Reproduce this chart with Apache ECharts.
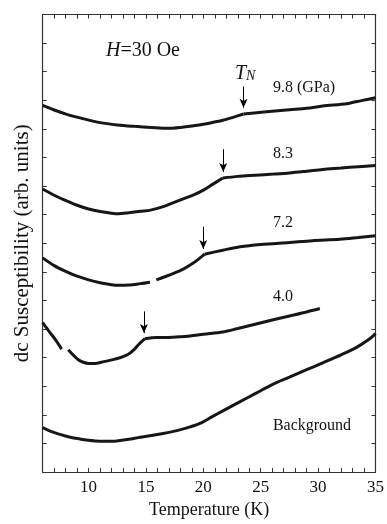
<!DOCTYPE html>
<html>
<head>
<meta charset="utf-8">
<script src="https://cdn.jsdelivr.net/npm/echarts@6/dist/echarts.min.js"></script>
<style>html,body{margin:0;padding:0;background:#fff}#c{width:387px;height:524px}</style>
</head>
<body>
<div id="c"></div>
<script>
// ---- data ----
var xTicks = [10, 15, 20, 25, 30, 35];
// 9.8 GPa
var p98a_T = [6, 7, 8.1, 9.5, 11, 12.5, 14, 15.5, 16.8, 18, 19, 20.5, 21.7, 22.7, 23.5];
var p98a_V = [12.82, 12.66, 12.51, 12.36, 12.22, 12.14, 12.09, 12.05, 12.02, 12.05, 12.10, 12.20, 12.30, 12.42, 12.52];
var p98b_T = [23.5, 25.5, 27.5, 29, 30.4, 32.5, 33.4, 34.3, 35];
var p98b_V = [12.52, 12.60, 12.67, 12.72, 12.80, 12.88, 12.96, 13.03, 13.09];
// 8.3 GPa
var p83a_T = [6, 7, 8, 9, 10, 11, 12, 12.6, 13.5, 14.5, 15.4, 16.5, 17.4, 18.3, 19.2, 20, 20.8, 21.7];
var p83a_V = [9.90, 9.68, 9.50, 9.33, 9.20, 9.11, 9.05, 9.03, 9.07, 9.12, 9.16, 9.28, 9.42, 9.56, 9.70, 9.86, 10.06, 10.28];
var p83b_T = [21.7, 23, 24.5, 26.1, 27.5, 29, 30.4, 32, 33.5, 35];
var p83b_V = [10.28, 10.34, 10.38, 10.42, 10.46, 10.52, 10.58, 10.63, 10.68, 10.72];
// 7.2 GPa
var p72a_T = [6, 7, 8, 9, 10, 11, 12, 12.6, 13.5, 14.5, 15.35];
var p72a_V = [7.49, 7.22, 7.02, 6.85, 6.72, 6.62, 6.55, 6.53, 6.54, 6.59, 6.64];
var p72b_T = [15.9, 16.7, 17.4, 18.25, 18.85, 19.5, 20.1];
var p72b_V = [6.72, 6.84, 6.95, 7.10, 7.24, 7.42, 7.62];
var p72c_T = [20.1, 21.7, 23.2, 25, 27.5, 29.5, 31.9, 33.5, 35];
var p72c_V = [7.62, 7.76, 7.88, 7.96, 8.03, 8.09, 8.14, 8.20, 8.26];
// 4.0 GPa
var p40a_T = [6, 6.3, 6.64, 7.2, 7.65];
var p40a_V = [5.23, 5.06, 4.88, 4.58, 4.30];
var p40b_T = [8.23, 8.67, 9.1, 9.54, 10, 10.56, 11.1, 11.57, 12.2, 12.73, 13.2, 13.6, 14, 14.4, 14.91];
var p40b_V = [4.28, 4.09, 3.93, 3.84, 3.80, 3.80, 3.84, 3.88, 3.94, 4.00, 4.07, 4.16, 4.30, 4.48, 4.67];
var p40c_T = [14.91, 15.93, 16.94, 18, 18.85, 20, 21.7, 23, 24.6, 26, 27.5, 29, 30.15];
var p40c_V = [4.67, 4.71, 4.71, 4.73, 4.76, 4.82, 4.90, 5.02, 5.18, 5.32, 5.46, 5.60, 5.72];
// Background
var bg_T = [6, 6.6, 7.5, 8.5, 9.25, 10, 11, 12, 12.45, 13.5, 14.5, 15.35, 16.5, 17.7, 18.85, 19.7, 20.7, 21.7, 23, 24.6, 26, 27.5, 29, 30.4, 32, 33.35, 34.5, 35];
var bg_V = [1.56, 1.44, 1.32, 1.21, 1.16, 1.11, 1.08, 1.08, 1.09, 1.15, 1.22, 1.27, 1.35, 1.45, 1.58, 1.70, 1.92, 2.14, 2.42, 2.76, 3.06, 3.32, 3.58, 3.82, 4.10, 4.36, 4.66, 4.84];
// T_N arrows: position, top, bottom
var arrowsT = [23.5, 21.73, 19.99, 14.82];
var arrowsTop = [13.48, 11.29, 8.58, 5.62];
var arrowsBot = [12.74, 10.49, 7.80, 4.86];
// text labels
var labelText = ['9.8 (GPa)', '8.3', '7.2', '4.0', 'Background'];
var labelT = [26.06, 26.06, 26.06, 26.06, 26.06];
var labelV = [13.44, 11.14, 8.71, 6.14, 1.62];

function pairs(t, v) { return t.map(function (x, i) { return [x, v[i]]; }); }

var FONT = 'Liberation Serif';
var chart = echarts.init(document.getElementById('c'), null, { renderer: 'canvas' });

function arrowLine(i) {
  return {
    silent: true, animation: false,
    symbol: ['none', 'arrow'], symbolSize: [6, 9],
    lineStyle: { color: '#000', width: 1, type: 'solid' },
    label: { show: false },
    emphasis: { disabled: true },
    data: [[{ coord: [arrowsT[i], arrowsTop[i]] }, { coord: [arrowsT[i], arrowsBot[i]] }]]
  };
}

function lineSeries(t, v, ml) {
  var s = {
    type: 'line', data: pairs(t, v), symbol: 'none', smooth: 0.3,
    lineStyle: { color: '#161616', width: 3 }, itemStyle: { color: '#161616' },
    animation: false, silent: true
  };
  if (ml) s.markLine = ml;
  return s;
}

var axisLineStyle = { color: '#333', width: 1.2 };
function frameAxis(extra) {
  var a = {
    type: 'value',
    axisLine: { show: true, onZero: false, lineStyle: axisLineStyle },
    axisTick: { show: true, inside: true, length: 4, lineStyle: { color: '#333' } },
    axisLabel: { show: false }, splitLine: { show: false }
  };
  for (var k in extra) a[k] = extra[k];
  return a;
}

chart.setOption({
  backgroundColor: '#fff',
  animation: false,
  grid: { left: 42.7, right: 9.3, top: 14.5, bottom: 49 },
  xAxis: [
    frameAxis({ min: 6, max: 35, interval: 1, position: 'bottom',
      axisLabel: {
        fontFamily: FONT, fontSize: 17, color: '#111', margin: 7,
        formatter: function (v) { return xTicks.indexOf(v) >= 0 ? String(v) : ''; }
      },
      name: 'Temperature (K)', nameLocation: 'middle', nameGap: 27,
      nameTextStyle: { fontFamily: FONT, fontSize: 18, color: '#111' } }),
    frameAxis({ min: 6, max: 35, interval: 1, position: 'top' })
  ],
  yAxis: [
    frameAxis({ min: 0, max: 16, interval: 1, position: 'left',
      name: 'dc Susceptibility (arb. units)', nameLocation: 'middle', nameGap: 10,
      nameTextStyle: { fontFamily: FONT, fontSize: 21, color: '#111' } }),
    frameAxis({ min: 0, max: 16, interval: 1, position: 'right' })
  ],
  series: [
    lineSeries(p98a_T, p98a_V, arrowLine(0)),
    lineSeries(p98b_T, p98b_V),
    lineSeries(p83a_T, p83a_V, arrowLine(1)),
    lineSeries(p83b_T, p83b_V),
    lineSeries(p72a_T, p72a_V, arrowLine(2)),
    lineSeries(p72b_T, p72b_V),
    lineSeries(p72c_T, p72c_V),
    lineSeries(p40a_T, p40a_V, arrowLine(3)),
    lineSeries(p40b_T, p40b_V),
    lineSeries(p40c_T, p40c_V),
    lineSeries(bg_T, bg_V)
  ]
});

// text annotations positioned via the axes
var gfx = [];
labelText.forEach(function (t, i) {
  var p = chart.convertToPixel({ gridIndex: 0 }, [labelT[i], labelV[i]]);
  gfx.push({ type: 'text', x: p[0], y: p[1], silent: true,
    style: { text: t, font: '16px "' + FONT + '"', fill: '#111', verticalAlign: 'middle', align: 'left' } });
});
var pH = chart.convertToPixel({ gridIndex: 0 }, [11.51, 14.74]);
gfx.push({ type: 'text', x: pH[0], y: pH[1], silent: true,
  style: { text: '{i|H}{n|=30 Oe}', verticalAlign: 'middle', align: 'left',
    rich: { i: { fontFamily: FONT, fontStyle: 'italic', fontSize: 20, fill: '#111' },
            n: { fontFamily: FONT, fontSize: 20, fill: '#111' } } } });
var pT = chart.convertToPixel({ gridIndex: 0 }, [22.75, 13.97]);
gfx.push({ type: 'text', x: pT[0], y: pT[1], silent: true,
  style: { text: '{t|T}{s|N}', verticalAlign: 'middle', align: 'left',
    rich: { t: { fontFamily: FONT, fontStyle: 'italic', fontSize: 20, fill: '#111', verticalAlign: 'bottom' },
            s: { fontFamily: FONT, fontStyle: 'italic', fontSize: 14, fill: '#111', padding: [8, 0, 0, 0], verticalAlign: 'bottom' } } } });
chart.setOption({ graphic: gfx });
</script>
</body>
</html>
